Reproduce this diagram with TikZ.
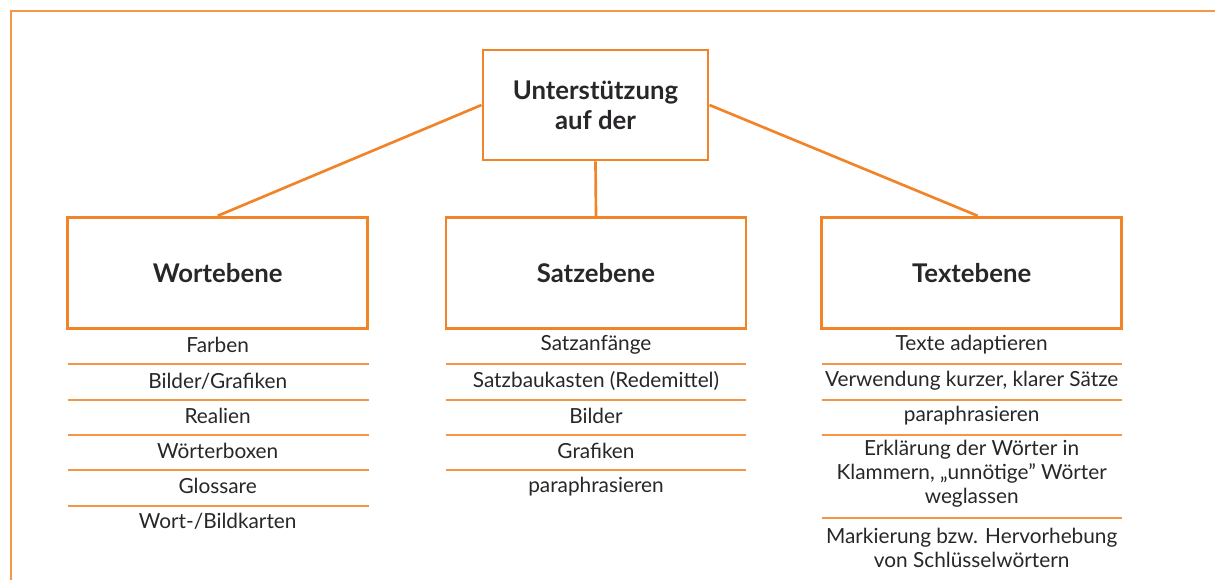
\documentclass[tikz,border=0pt]{standalone}
\usepackage{fontspec}
\setmainfont{Lato}
\newdimen\pxu
\pxu=0.75pt
\definecolor{org}{RGB}{240,132,38}
\definecolor{frm}{RGB}{246,150,70}
\definecolor{sep}{RGB}{243,150,70}
\definecolor{txt}{RGB}{40,38,40}
\begin{document}
\begin{tikzpicture}[x=0.75pt,y=-0.75pt,
  box/.style={draw=org,line width=2.2pt,fill=white,minimum height=111\pxu,inner sep=0pt,
    font=\fontsize{19.3}{22.5}\selectfont\bfseries,text=txt,align=center},
  conn/.style={draw=org,line width=2pt},
  sepline/.style={draw=sep,line width=1pt},
  item/.style={font=\fontsize{15.6}{18}\selectfont,text=txt,align=center,inner sep=0pt}]
\useasboundingbox (0,0) rectangle (1215,580);
% open frame
\draw[frm,line width=1.1pt] (1215,11) -- (11,11) -- (11,580);
% boxes
\node[box,minimum width=225\pxu,minimum height=110\pxu] (top) at (595.5,105) {Unterstützung\\auf der};
\node[box,minimum width=300\pxu] (wort) at (217.7,272.8) {Wortebene};
\node[box,minimum width=300\pxu] (satz) at (596,272.8) {Satzebene};
\node[box,minimum width=300\pxu] (text) at (971.7,272.8) {Textebene};
% connectors
\draw[conn] (top.west) -- (wort.north);
\draw[conn] (top.south) -- (satz.north);
\draw[conn] (top.east) -- ([xshift=4.5pt]text.north);
% left column
\node[item] (w1) at (217.7,345) {Farben};
\node[item] (w2) at (217.7,381) {Bilder/Grafiken};
\node[item] (w3) at (217.7,416) {Realien};
\node[item] (w4) at (217.7,451) {Wörterboxen};
\node[item] (w5) at (217.7,486) {Glossare};
\node[item] (w6) at (217.7,521) {Wort-/Bildkarten};
\foreach \y in {364,400,435,470,506}{\draw[sepline] (67.5,\y) -- (369,\y);}
% middle column
\node[item] (s1) at (596,345) {Satzanfänge};
\node[item] (s2) at (596,381) {Satzbaukasten (Redemittel)};
\node[item] (s3) at (596,416) {Bilder};
\node[item] (s4) at (596,451) {Grafiken};
\node[item] (s5) at (596,487) {paraphrasieren};
\foreach \y in {364,400,435,470}{\draw[sepline] (446,\y) -- (746,\y);}
% right column
\node[item] (t1) at (971.7,345) {Texte adaptieren};
\node[item] (t2) at (971.7,381) {Verwendung kurzer, klarer Sätze};
\node[item] (t3) at (971.7,416) {paraphrasieren};
\node[item] (t4) at (971.7,474) {Erklärung der Wörter in\\Klammern, „unnötige” Wörter\\weglassen};
\node[item] (t5) at (971.7,548) {Markierung bzw. Hervorhebung\\von Schlüsselwörtern};
\foreach \y in {364,400,435,518}{\draw[sepline] (821.5,\y) -- (1122,\y);}
\end{tikzpicture}
\end{document}
